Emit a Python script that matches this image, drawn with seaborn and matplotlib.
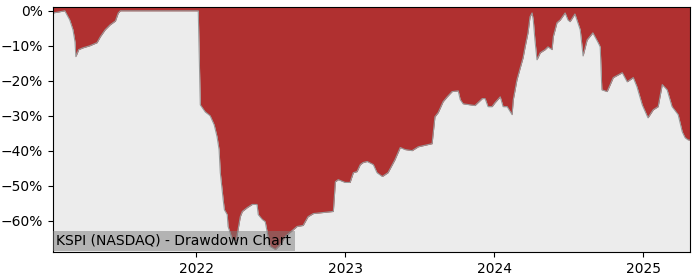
import matplotlib
matplotlib.use("Agg")
import matplotlib.pyplot as plt
import matplotlib.dates as mdates
from matplotlib.ticker import PercentFormatter, FixedLocator
import pandas as pd
import seaborn as sns

dates = [
    "2021-01-15", "2021-02-13", "2021-02-25", "2021-03-05", "2021-03-10", "2021-03-12",
    "2021-03-19", "2021-03-29", "2021-04-15", "2021-05-03", "2021-05-11", "2021-05-23",
    "2021-06-04", "2021-06-17", "2021-06-24", "2021-06-29", "2022-01-06", "2022-01-11",
    "2022-01-23", "2022-02-04", "2022-02-14", "2022-02-21", "2022-02-26", "2022-03-01",
    "2022-03-08", "2022-03-11", "2022-03-18", "2022-03-20", "2022-03-25", "2022-03-30",
    "2022-04-09", "2022-04-19", "2022-04-24", "2022-05-06", "2022-05-18", "2022-05-30",
    "2022-06-02", "2022-06-12", "2022-06-19", "2022-06-26", "2022-07-01", "2022-07-14",
    "2022-07-26", "2022-08-07", "2022-08-19", "2022-09-05", "2022-09-20", "2022-10-02",
    "2022-10-15", "2022-12-03", "2022-12-08", "2022-12-15", "2023-01-01", "2023-01-13",
    "2023-01-21", "2023-01-30", "2023-02-07", "2023-02-14", "2023-02-24", "2023-03-11",
    "2023-03-20", "2023-04-02", "2023-04-16", "2023-05-03", "2023-05-16", "2023-05-28",
    "2023-06-14", "2023-06-29", "2023-08-02", "2023-08-09", "2023-08-17", "2023-08-29",
    "2023-09-08", "2023-09-20", "2023-10-05", "2023-10-10", "2023-10-17", "2023-11-15",
    "2023-12-03", "2023-12-10", "2023-12-17", "2023-12-27", "2024-01-03", "2024-01-16",
    "2024-01-23", "2024-02-02", "2024-02-14", "2024-02-17", "2024-02-26", "2024-03-05",
    "2024-03-12", "2024-03-17", "2024-03-24", "2024-03-29", "2024-04-03", "2024-04-06",
    "2024-04-10", "2024-04-15", "2024-04-23", "2024-05-05", "2024-05-12", "2024-05-22",
    "2024-05-25", "2024-06-03", "2024-06-11", "2024-06-23", "2024-06-30", "2024-07-05",
    "2024-07-17", "2024-07-30", "2024-08-06", "2024-08-16", "2024-08-30", "2024-09-12",
    "2024-09-17", "2024-09-21", "2024-10-04", "2024-10-19", "2024-11-10", "2024-11-22",
    "2024-12-07", "2024-12-16", "2024-12-29", "2025-01-12", "2025-01-25", "2025-02-06",
    "2025-02-16", "2025-02-28", "2025-03-12", "2025-03-27", "2025-04-06", "2025-04-13",
    "2025-04-20", "2025-04-25",
]
drawdown = [
    -0.6, 0.0, -2.6, -5.4, -8.9, -13.1,
    -11.1, -10.6, -10.0, -9.1, -7.4, -5.4,
    -4.0, -2.9, -0.6, 0.0, 0.0, -26.9,
    -28.9, -30.0, -32.6, -36.0, -39.7, -46.3,
    -54.0, -56.9, -58.3, -61.7, -63.4, -65.4,
    -65.7, -58.9, -57.4, -56.3, -55.4, -55.4,
    -58.3, -59.7, -60.3, -64.6, -67.4, -68.3,
    -66.9, -64.6, -63.4, -61.7, -61.4, -58.9,
    -58.0, -57.4, -48.9, -48.3, -49.1, -49.1,
    -46.3, -46.0, -44.0, -43.4, -43.1, -44.0,
    -46.3, -47.4, -46.3, -42.6, -39.1, -39.7,
    -40.0, -38.9, -38.0, -30.3, -29.1, -26.0,
    -24.6, -23.1, -22.9, -25.4, -26.6, -27.1,
    -25.1, -25.1, -27.4, -27.4, -26.3, -24.6,
    -27.4, -27.4, -29.7, -25.4, -19.7, -16.3,
    -13.4, -10.3, -6.3, -1.7, -0.6, -2.6,
    -8.3, -14.0, -12.0, -11.1, -10.3, -11.1,
    -7.4, -3.4, -2.6, -0.6, -2.6, -3.1,
    -0.9, -5.4, -12.9, -8.3, -6.3, -9.1,
    -10.3, -22.6, -23.1, -19.1, -17.7, -20.3,
    -19.1, -21.7, -26.9, -30.6, -28.3, -27.4,
    -21.1, -22.6, -27.4, -29.7, -34.6, -36.3,
    -36.9, -37.0,
]
y_ticks = [0, -10, -20, -30, -40, -50, -60]
title = "KSPI (NASDAQ) - Drawdown Chart"

df = pd.DataFrame({"date": pd.to_datetime(dates), "dd": drawdown})

RED = "#b03030"
GRAY_BG = "#ececec"

fig = plt.figure(figsize=(7, 2.8), dpi=100)
ax = fig.add_axes([0.0757, 0.1, 0.91, 0.875])
ax.set_facecolor(GRAY_BG)

ytop = 1.1
ybot = -69.0
ax.fill_between(df["date"], df["dd"], ytop, color=RED, linewidth=0, zorder=1)
sns.lineplot(data=df, x="date", y="dd", ax=ax, color="#999999", linewidth=0.8, zorder=2)

ax.set_ylim(ybot, ytop)
ax.set_xlim(df["date"].iloc[0], df["date"].iloc[-1])
ax.yaxis.set_major_locator(FixedLocator(y_ticks))
ax.yaxis.set_major_formatter(PercentFormatter(decimals=0))
ax.xaxis.set_major_locator(mdates.YearLocator())
ax.xaxis.set_major_formatter(mdates.DateFormatter("%Y"))
ax.set_xlabel("")
ax.set_ylabel("")
ax.tick_params(labelsize=10)

ax.annotate(title, xy=(0, 0), xycoords="axes fraction", xytext=(2.5, 3.0),
            textcoords="offset points", ha="left", va="bottom", fontsize=10,
            color="black", zorder=5,
            bbox=dict(boxstyle="square,pad=0.22", facecolor="#7c7c7c", alpha=0.5,
                      edgecolor="none"))

fig.savefig("out.png", dpi=100)
